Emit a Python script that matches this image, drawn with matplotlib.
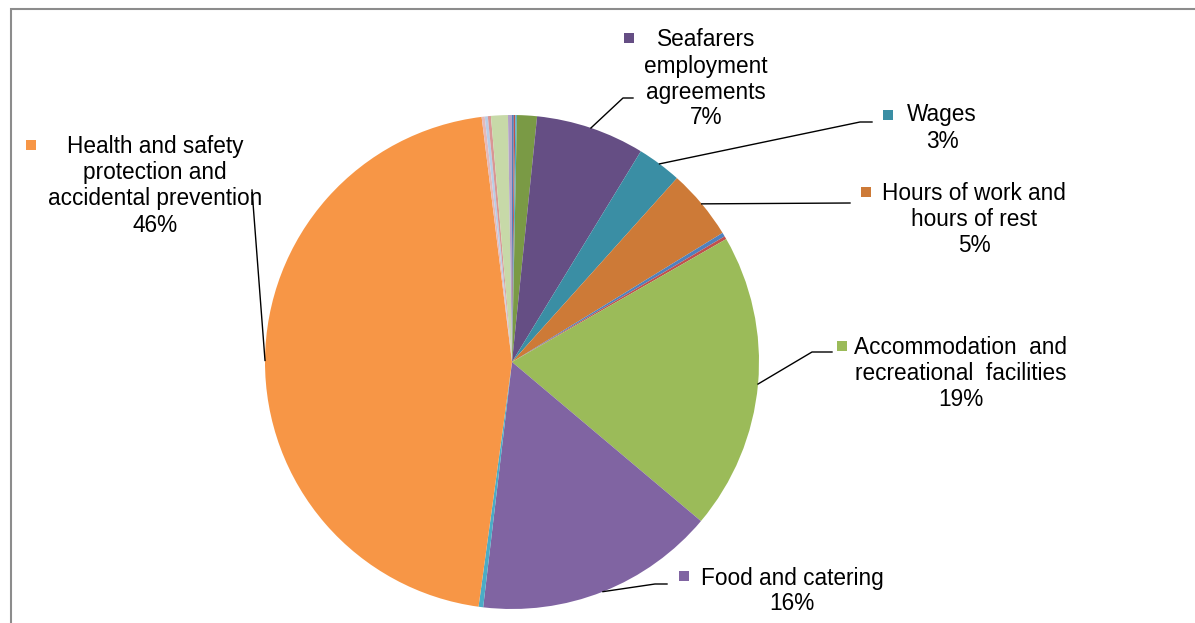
import numpy as np
import matplotlib
matplotlib.use('Agg')
import matplotlib.pyplot as plt
from matplotlib.patches import Rectangle

plt.rcParams['font.family'] = ['Liberation Sans', 'DejaVu Sans']

# data (share of deficiencies, %)
categories = ['a', 'b', 'c', 'd',
              'Seafarers employment agreements', 'Wages', 'Hours of work and hours of rest',
              'e', 'f',
              'Accommodation and recreational facilities', 'Food and catering',
              'g', 'Health and safety protection and accidental prevention',
              'h', 'i', 'j', 'k', 'l']
values = [0.12, 0.10, 0.10, 1.30,
          7.10, 2.90, 4.60,
          0.26, 0.20,
          19.40, 15.70,
          0.30, 45.80,
          0.20, 0.20, 0.20, 1.10, 0.26]
colors = ['#4F81BD', '#C0504D', '#4BACC6', '#7A9A45',
          '#654E84', '#3A8EA4', '#CD7A37',
          '#4F81BD', '#C0504D',
          '#9BBB59', '#8064A2',
          '#4BACC6', '#F79646',
          '#E6B9B8', '#B9CDE5', '#D99694', '#C7D9A8', '#B3A2C7']

# label text lines for the labelled slices (index -> lines without the %)
label_lines = {
    4: ['Seafarers', 'employment', 'agreements'],
    5: ['Wages'],
    6: ['Hours of work and', 'hours of rest'],
    9: ['Accommodation  and', 'recreational  facilities'],
    10: ['Food and catering'],
    12: ['Health and safety', 'protection and', 'accidental prevention'],
}

W, H = 1195, 623
fig = plt.figure(figsize=(W/100, H/100), dpi=100)
ax = fig.add_axes([0, 0, 1, 1])

cx, cy, r = 512, H-362, 247
wedges, _ = ax.pie(values, colors=colors, startangle=90, counterclock=False,
                   center=(cx, cy), radius=r,
                   wedgeprops=dict(linewidth=0))
ax.set_xlim(0, W)
ax.set_ylim(0, H)
ax.set_aspect('auto')
ax.axis('off')

# layout for labels: text center x, first line y (pixels from top), key square, leader path
layout = {
    4: dict(x=706, y=40, key=(629, 38), path=[(623, 98), (633, 98)]),
    5: dict(x=942, y=115, key=(888, 115), path=[(860, 122), (872, 122)]),
    6: dict(x=974, y=194, key=(866, 192), path=[(850, 203)]),
    9: dict(x=961, y=348, key=(842, 346), path=[(812, 352), (832, 352)]),
    10: dict(x=792, y=578, key=(684, 576), path=[(655, 584), (667, 584)]),
    12: dict(x=155, y=147, key=(31, 145), path=[(252, 190)]),
}

total = sum(values)
step = 26
for i, lines in label_lines.items():
    L = layout[i]
    txt = lines + ['%.0f%%' % (values[i]/total*100)]
    for k, s in enumerate(txt):
        ax.text(L['x'], H-(L['y']+k*step), s, ha='center', va='center', fontsize=16.3, color='black')
    kx, ky = L['key']
    ax.plot(kx, H-ky, 's', color=colors[i], markersize=7.5, markeredgewidth=0)
    # leader line from slice edge
    w = wedges[i]
    th = np.deg2rad((w.theta1+w.theta2)/2)
    xs = [cx + r*np.cos(th)] + [p[0] for p in L['path']]
    ys = [cy + r*np.sin(th)] + [H-p[1] for p in L['path']]
    ax.plot(xs, ys, color='black', lw=1.0)

# chart frame
ax.add_patch(Rectangle((11, -20), 1300, H-9+20, fill=False, edgecolor='#8C8C8C', lw=1.5, clip_on=False))

plt.savefig('out.png', dpi=100)
